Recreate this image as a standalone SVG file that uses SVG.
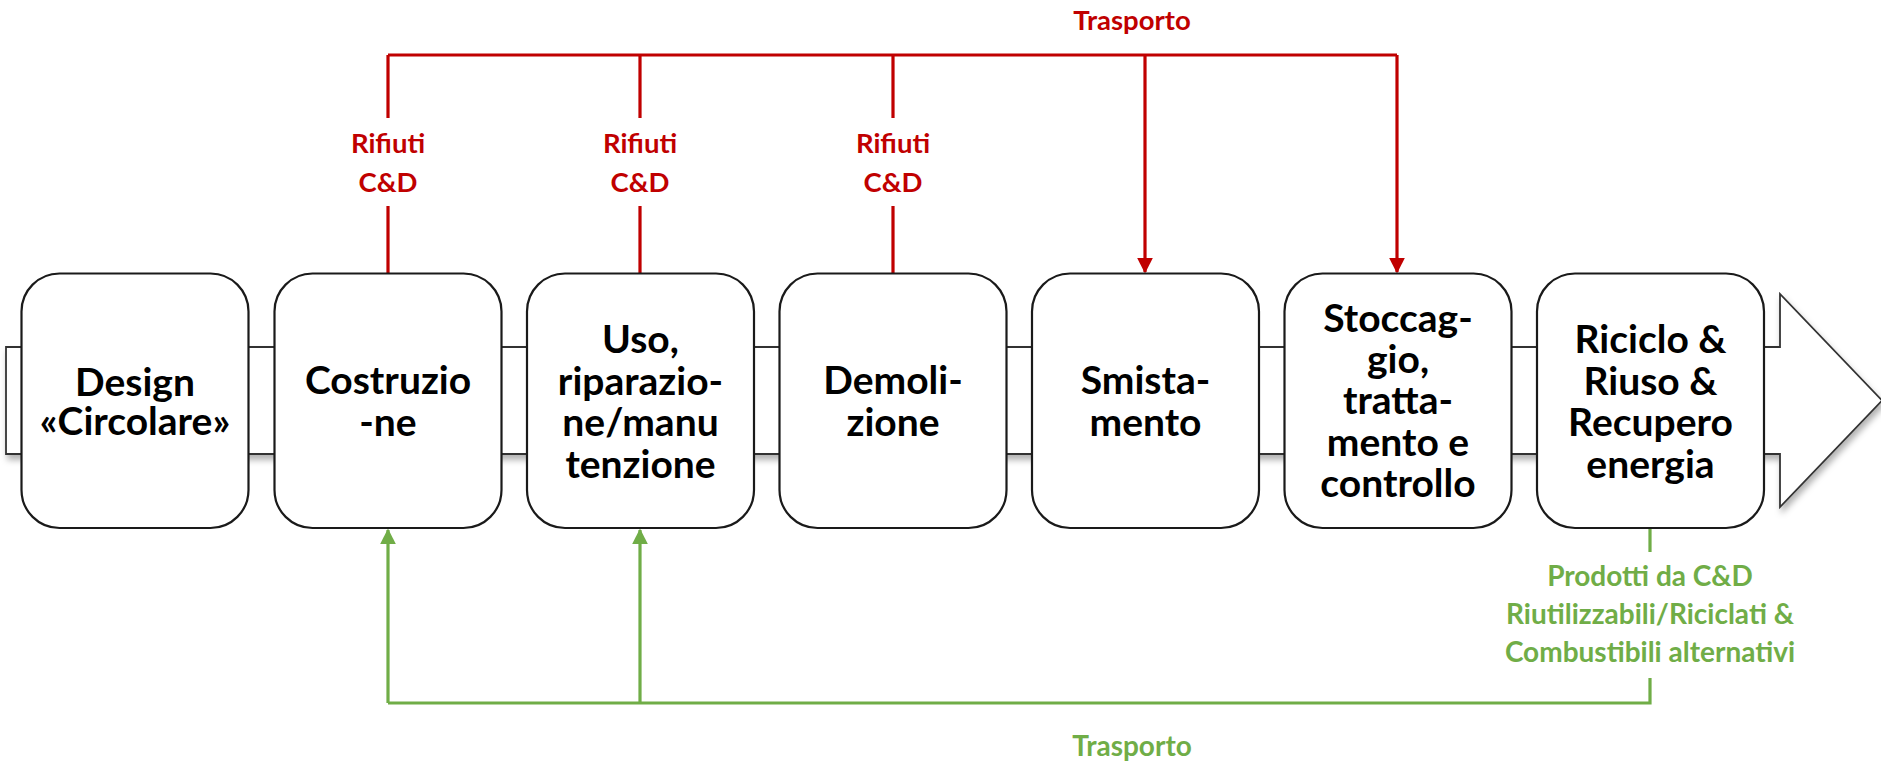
<svg xmlns="http://www.w3.org/2000/svg" width="1881" height="761" viewBox="0 0 1881 761">
<style>
.box{fill:#fff;stroke:#1a1a1a;stroke-width:2.2}
.bt{font-family:Lato,"Liberation Sans",sans-serif;font-weight:700;font-size:39px;fill:#000;text-anchor:middle}
.red{font-family:Lato,"Liberation Sans",sans-serif;font-weight:700;font-size:27.5px;fill:#C00000;text-anchor:middle}
.grn{font-family:Lato,"Liberation Sans",sans-serif;font-weight:700;font-size:28px;fill:#70AD47;text-anchor:middle}
.rl{fill:none;stroke:#C00000;stroke-width:3.2}
.gl{fill:none;stroke:#70AD47;stroke-width:3.2}
</style>
<defs>
<filter id="sh" x="-5%" y="-20%" width="110%" height="150%">
<feDropShadow dx="2" dy="5" stdDeviation="3" flood-color="#000" flood-opacity="0.3"/>
</filter>
<marker id="ar" viewBox="0 0 10 10" refX="9" refY="5" markerWidth="5" markerHeight="5" markerUnits="strokeWidth" orient="auto"><path d="M0,0 L10,5 L0,10 Z" fill="#C00000"/></marker>
<marker id="ag" viewBox="0 0 10 10" refX="9" refY="5" markerWidth="5" markerHeight="5" markerUnits="strokeWidth" orient="auto"><path d="M0,0 L10,5 L0,10 Z" fill="#70AD47"/></marker>
</defs>
<rect width="1881" height="761" fill="#fff"/>
<g id="band">
<path d="M6,347 H1780 V294 L1882,400.5 L1780,507 V454 H6 Z" fill="#fff" stroke="#333" stroke-width="1.8" filter="url(#sh)"/>
</g>
<g id="connectors">
<path class="rl" d="M388,55 H1397" stroke-width="4.5"/>
<path class="rl" d="M388,55 V118 M388,206 V273" stroke-width="4"/>
<path class="rl" d="M640,55 V118 M640,206 V273"/>
<path class="rl" d="M893,55 V118 M893,206 V273"/>
<path class="rl" d="M1145,55 V272" marker-end="url(#ar)"/>
<path class="rl" d="M1397,55 V272" marker-end="url(#ar)"/>
<path class="gl" d="M1650,529 V552 M1650,678 V703 H388"/>
<path class="gl" d="M388,703 V530" marker-end="url(#ag)"/>
<path class="gl" d="M640,703 V530" marker-end="url(#ag)"/>
<text class="red" x="1132" y="30">Trasporto</text>
<text class="red" x="388" y="153">Rifiuti</text>
<text class="red" x="388" y="192">C&amp;D</text>
<text class="red" x="640" y="153">Rifiuti</text>
<text class="red" x="640" y="192">C&amp;D</text>
<text class="red" x="893" y="153">Rifiuti</text>
<text class="red" x="893" y="192">C&amp;D</text>
<text class="grn" x="1650" y="586">Prodotti da C&amp;D</text>
<text class="grn" x="1650" y="624">Riutilizzabili/Riciclati &amp;</text>
<text class="grn" x="1650" y="662">Combustibili alternativi</text>
<text class="grn" x="1132" y="756">Trasporto</text>
</g>
<g id="design">
<rect class="box" x="21.5" y="273.5" width="227" height="254.5" rx="38"/>
<text class="bt" x="135" y="396">Design</text>
<text class="bt" x="135" y="435" font-size="32">«Circolare»</text>
</g>
<g id="costruzione">
<rect class="box" x="274.5" y="273.5" width="227" height="254.5" rx="38"/>
<text class="bt" x="388" y="394">Costruzio</text>
<text class="bt" x="388" y="436">-ne</text>
</g>
<g id="uso">
<rect class="box" x="527" y="273.5" width="227" height="254.5" rx="38"/>
<text class="bt" x="640.5" y="353">Uso,</text>
<text class="bt" x="640.5" y="395">riparazio-</text>
<text class="bt" x="640.5" y="436">ne/manu</text>
<text class="bt" x="640.5" y="478">tenzione</text>
</g>
<g id="demolizione">
<rect class="box" x="779.5" y="273.5" width="227" height="254.5" rx="38"/>
<text class="bt" x="893" y="394">Demoli-</text>
<text class="bt" x="893" y="436">zione</text>
</g>
<g id="smistamento">
<rect class="box" x="1032" y="273.5" width="227" height="254.5" rx="38"/>
<text class="bt" x="1145.5" y="394">Smista-</text>
<text class="bt" x="1145.5" y="436">mento</text>
</g>
<g id="stoccaggio">
<rect class="box" x="1284.5" y="273.5" width="227" height="254.5" rx="38"/>
<text class="bt" x="1398" y="332">Stoccag-</text>
<text class="bt" x="1398" y="373">gio,</text>
<text class="bt" x="1398" y="414">tratta-</text>
<text class="bt" x="1398" y="456">mento e</text>
<text class="bt" x="1398" y="497">controllo</text>
</g>
<g id="riciclo">
<rect class="box" x="1537" y="273.5" width="227" height="254.5" rx="38"/>
<text class="bt" x="1650.5" y="353">Riciclo &amp;</text>
<text class="bt" x="1650.5" y="395">Riuso &amp;</text>
<text class="bt" x="1650.5" y="436">Recupero</text>
<text class="bt" x="1650.5" y="478">energia</text>
</g>
</svg>
